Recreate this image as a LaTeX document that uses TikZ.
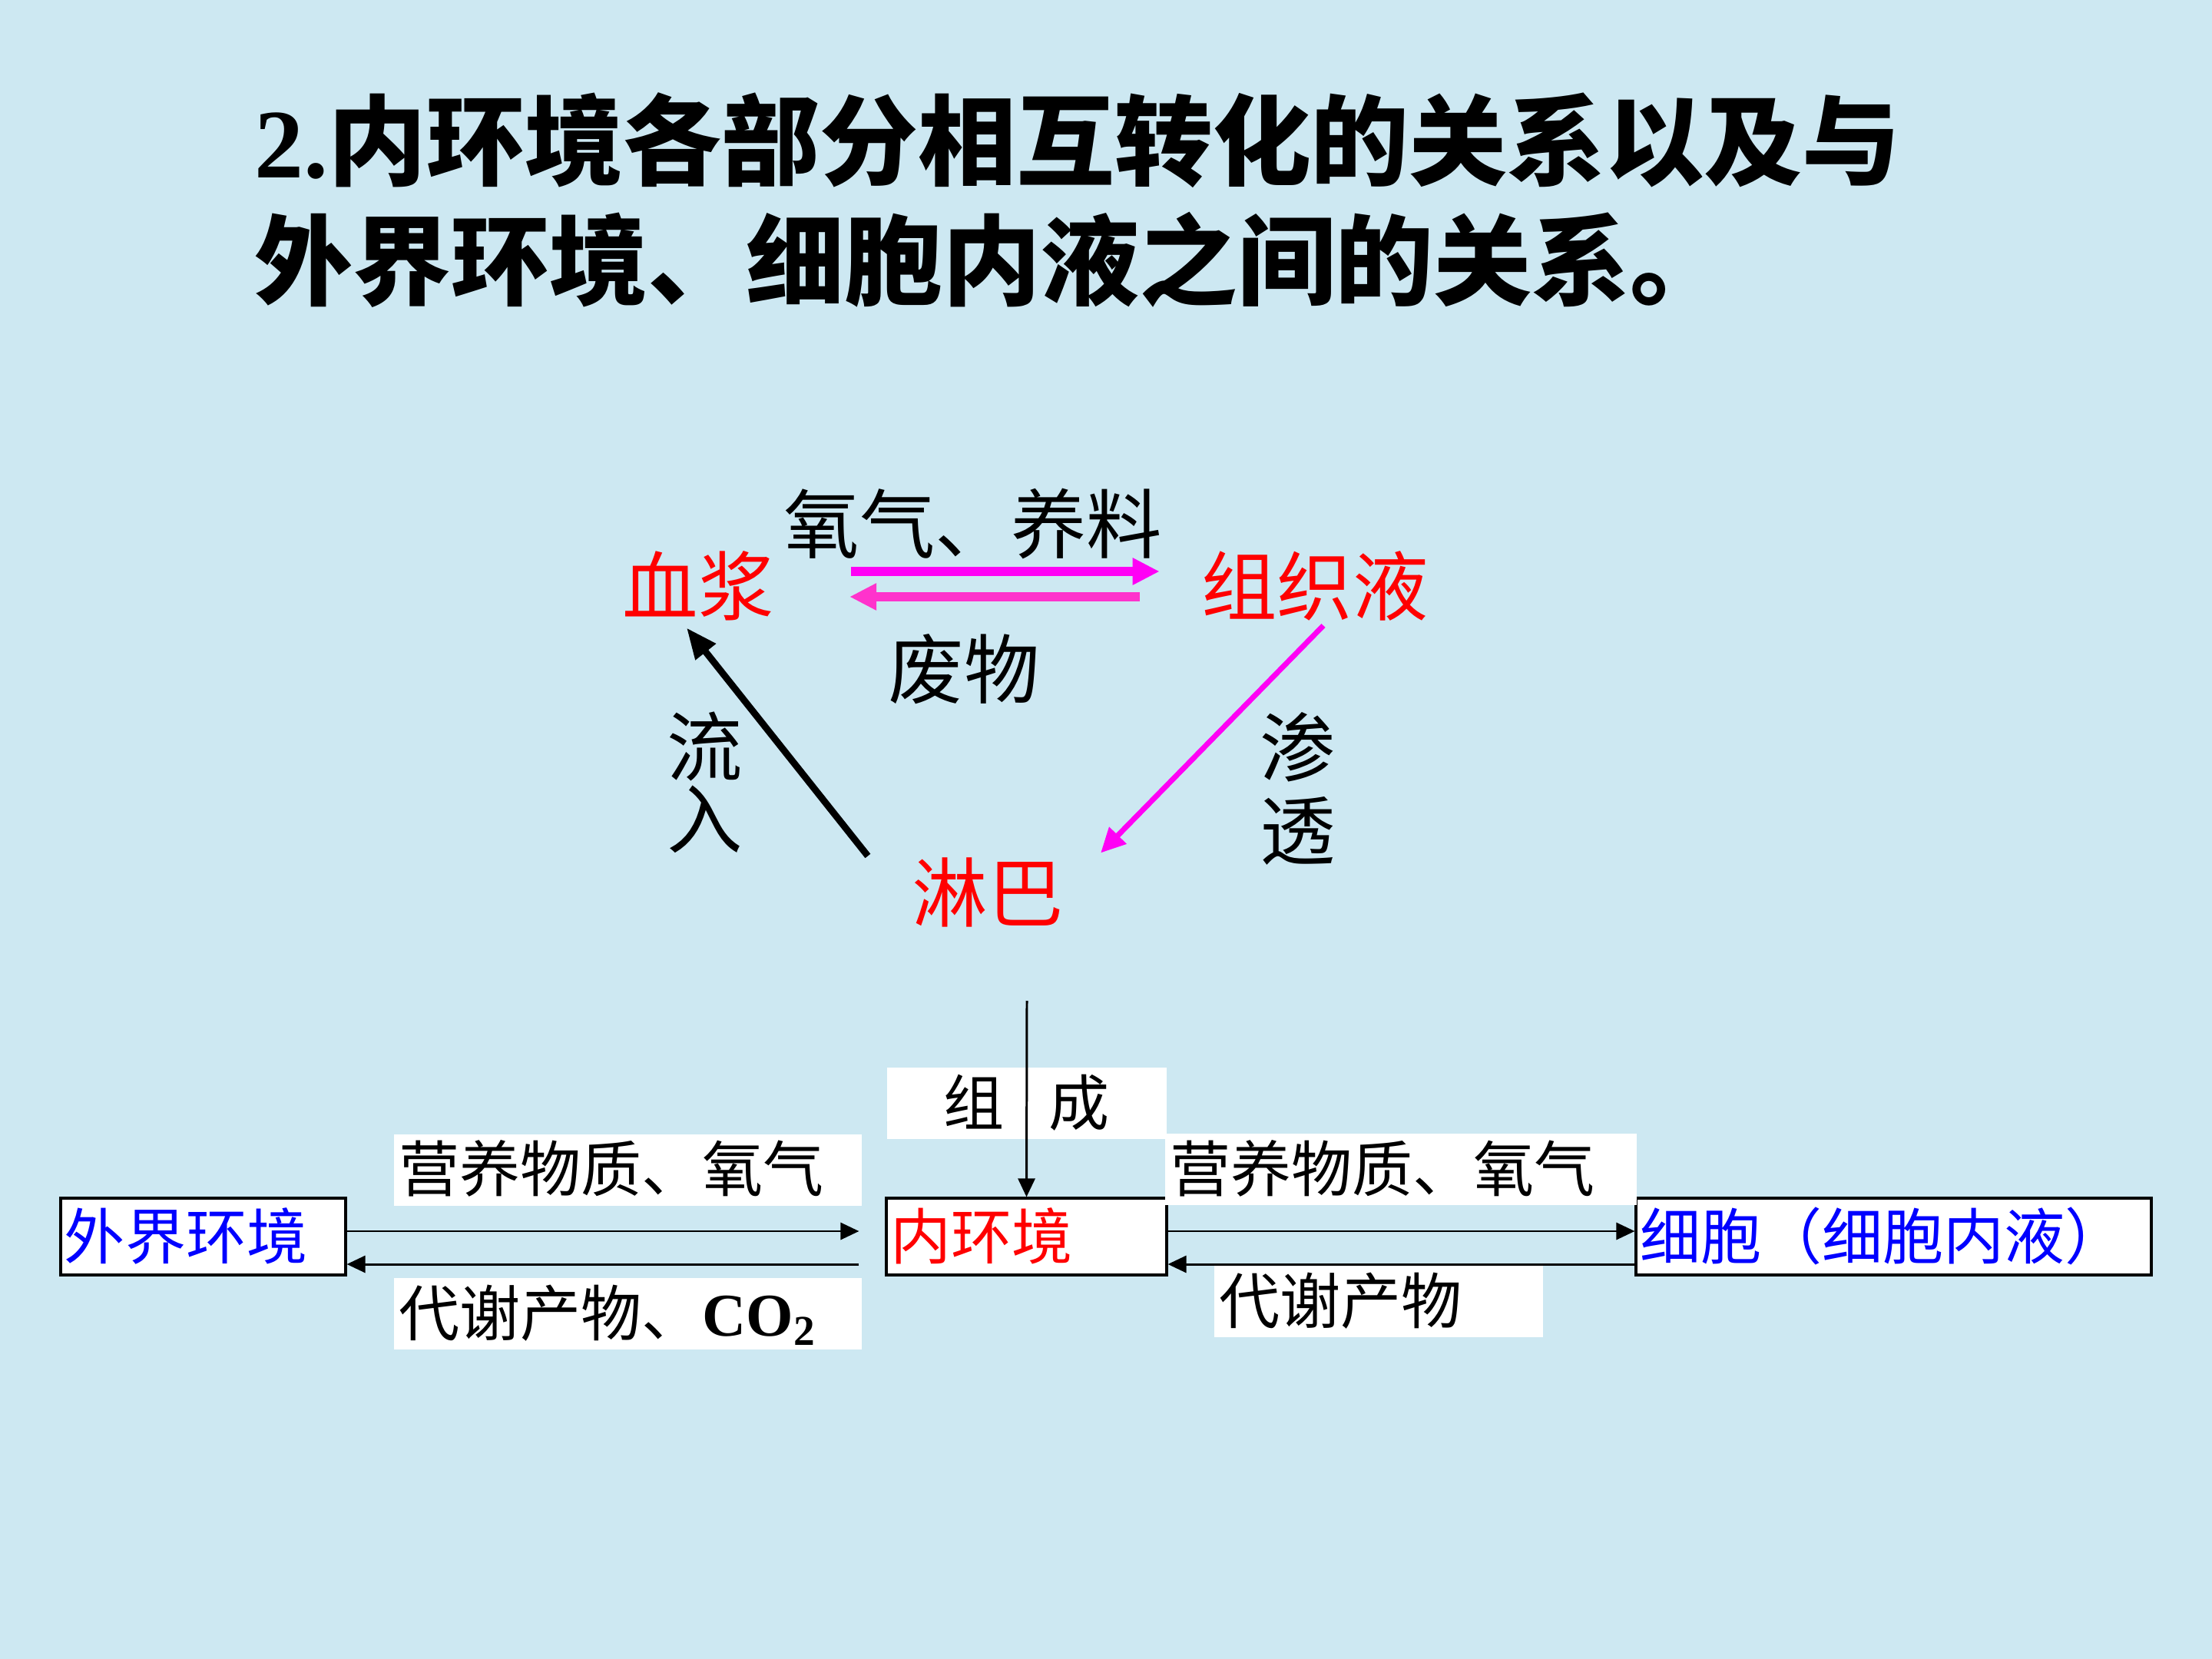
\documentclass[tikz,border=0pt]{standalone}
\usepackage{fontspec}
\setmainfont{Liberation Serif}
\newfontfamily\cjk{Noto Sans CJK SC}
\usetikzlibrary{arrows.meta}
\definecolor{bgblue}{RGB}{205,232,242}
\definecolor{fwdpink}{RGB}{255,0,245}
\definecolor{backpink}{RGB}{255,51,204}

\begin{document}
\begin{tikzpicture}[
	big/.style={font=\cjk\fontsize{28}{32}\selectfont, inner sep=0pt, text height=23pt, text depth=2.5pt},
	small/.style={font=\cjk\fontsize{22.5}{27}\selectfont, text height=18.5pt, text depth=2pt},
	envbox/.style={small, draw, line width=0.9pt, fill=white, minimum height=1cm, inner xsep=0.05cm, inner ysep=0pt, align=left},
	lbl/.style={small, fill=white, minimum height=0.93cm, inner xsep=0.06cm, inner ysep=0pt, align=left},
	fat/.style={line width=3.4pt, -{Triangle[length=0.35cm,width=0.33cm]}},
	thinarr/.style={line width=0.85pt, -{Triangle[length=0.24cm,width=0.22cm]}}
]
	\fill[bgblue] (0,0) rectangle (28.8,-21.6);
	\useasboundingbox (0,0) rectangle (28.8,-21.6);
	% title
	\node[anchor=west, inner sep=0pt, font=\fontsize{36.4}{40}\selectfont] (title1) at (3.31,-1.83)
		{\textbf{2.}{\cjk\bfseries 内环境各部分相互转化的关系以及与}};
	\node[anchor=west, inner sep=0pt, font=\cjk\bfseries\fontsize{36.4}{40}\selectfont] (title2) at (3.31,-3.38)
		{外界环境、细胞内液之间的关系。};
	% blood, tissue fluid, lymph
	\node[big, text=red] (plasma) at (9.09,-7.64) {血浆};
	\node[big, text=red] (tissue) at (17.12,-7.64) {组织液};
	\node[big, text=red] (lymph) at (12.86,-11.63) {淋巴};
	\node[big] (o2lbl) at (12.67,-6.83) {氧气、养料};
	\node[big] (wastelbl) at (12.55,-8.72) {废物};
	\node[big, align=center, font=\cjk\fontsize{28}{26.7}\selectfont] (inlbl) at (9.18,-10.67) {流\\入};
	\node[big, align=center, font=\cjk\fontsize{28}{30.5}\selectfont] (osmlbl) at (16.90,-10.82) {渗\\透};
	\draw[fat, fwdpink, shorten <=1.0cm, shorten >=0.54cm] ([yshift=0.2cm]plasma.east) -- ([yshift=0.2cm]tissue.west);
	\draw[fat, backpink, shorten <=0.80cm, shorten >=0.98cm] ([yshift=-0.13cm]tissue.west) -- ([yshift=-0.13cm]plasma.east);
	\draw[line width=2pt, fwdpink, -{Triangle[length=0.32cm,width=0.3cm]}] ([xshift=0.11cm,yshift=-0.05cm]tissue.south) -- ([xshift=0.48cm,yshift=0.07cm]lymph.north east);
	\draw[line width=2.5pt, -{Triangle[length=0.4cm,width=0.32cm]}] ([xshift=-0.57cm,yshift=0.03cm]lymph.north west) -- ([xshift=-0.15cm,yshift=-0.08cm]plasma.south);
	% boxes
	\node[envbox, text=blue, text width=3.61cm] (outer) at (2.645,-16.10) {外界环境};
	\node[envbox, text=red, text width=3.55cm] (inner) at (13.365,-16.10) {内环境};
	\node[envbox, text=blue, text width=6.61cm] (cell) at (24.655,-16.10) {细胞（细胞内液）};
	% labels
	\node[lbl, text width=5.97cm] (nutrL) at (8.175,-15.23) {营养物质、氧气};
	\node[lbl, text width=5.97cm] (wasteL) at (8.175,-17.105) {代谢产物、{\rmfamily\bfseries CO\textsubscript{2}}};
	\node[lbl, text width=6.02cm] (nutrR) at (18.24,-15.225) {营养物质、氧气};
	\node[lbl, text width=4.16cm] (wasteR) at (17.95,-16.945) {代谢产物};
	\node[lbl, text width=3.52cm, align=center] (compose) at (13.37,-14.365) {组\hspace{0.58cm}成};
	% arrows
	\draw[thinarr, shorten >=0.34cm] ([yshift=0.07cm]outer.east) -- ([yshift=0.07cm]inner.west);
	\draw[thinarr, shorten <=0.34cm] ([yshift=-0.36cm]inner.west) -- ([yshift=-0.36cm]outer.east);
	\draw[thinarr] ([yshift=0.07cm]inner.east) -- ([yshift=0.07cm]cell.west);
	\draw[thinarr] ([yshift=-0.36cm]cell.west) -- ([yshift=-0.36cm]inner.east);
	\coordinate (compTop) at (13.37,-13.03);
	\draw[thinarr] (compTop) -- (inner.north);
\end{tikzpicture}
\end{document}
